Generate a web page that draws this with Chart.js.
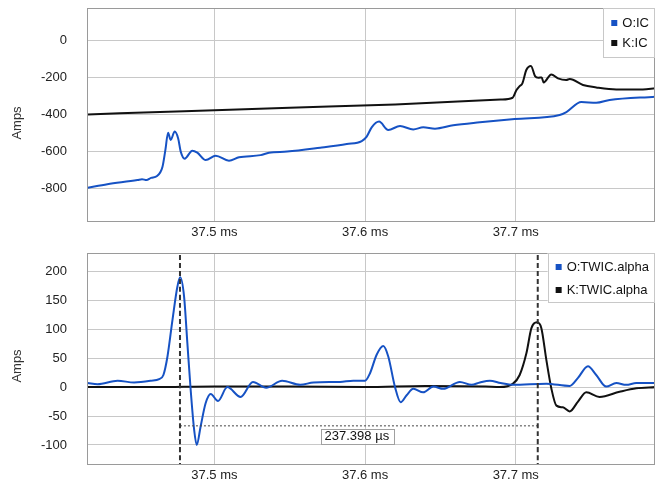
<!DOCTYPE html>
<html><head><meta charset="utf-8">
<script src="https://cdn.jsdelivr.net/npm/chart.js@4/dist/chart.umd.min.js"></script>
<style>
html,body{margin:0;padding:0;background:#fff;width:657px;height:482px;overflow:hidden;}
canvas{position:absolute;left:0;}
#c1{top:0}
#c2{top:241px}
</style></head><body>
<canvas id="c1" width="657" height="241"></canvas>
<canvas id="c2" width="657" height="241"></canvas>
<script>
// ---------- data ----------
const xTicks = [37.5, 37.6, 37.7];
const icYTicks = [-800, -600, -400, -200, 0];
const twYTicks = [-100, -50, 0, 50, 100, 150, 200];

const icLabels = ['O:IC', 'K:IC'];
const twLabels = ['O:TWIC.alpha', 'K:TWIC.alpha'];

const icOTime = [37.416,37.429,37.449,37.452,37.455,37.458,37.462,37.4656,37.4675,37.4693,37.471,37.4737,37.476,37.4777,37.4803,37.4854,37.4887,37.4943,37.5009,37.5097,37.5164,37.5307,37.5362,37.5483,37.5702,37.5879,37.5978,37.6011,37.6044,37.6093,37.6154,37.6232,37.632,37.6386,37.6464,37.6585,37.6762,37.6993,37.7291,37.7336,37.7435,37.7534,37.7623,37.7925];
const icOVals = [-798,-779,-757,-752,-757,-745,-735,-685,-595,-501,-540,-495,-532,-603,-641,-598,-609,-649,-625,-652,-634,-622,-609,-603,-582,-562,-546,-522,-472,-441,-486,-465,-483,-472,-479,-461,-445,-427,-405,-389,-335,-339,-324,-306];

const icKTime = [37.416,37.48,37.55,37.62,37.69,37.6979,37.7005,37.7026,37.7044,37.707,37.7101,37.7128,37.715,37.7172,37.7185,37.7236,37.728,37.7335,37.7358,37.7446,37.7534,37.7667,37.7843,37.7925];
const icKVals = [-402,-385,-366,-348,-322,-312,-270,-249,-234,-162,-140,-195,-204,-202,-229,-186,-207,-216,-211,-243,-256,-267,-267,-261];

const twOTime = [37.416,37.4225,37.4358,37.4468,37.4578,37.4634,37.4662,37.4689,37.4722,37.4755,37.4773,37.4799,37.4821,37.4843,37.4866,37.4883,37.4909,37.4942,37.4976,37.5024,37.5086,37.5174,37.5256,37.5344,37.545,37.557,37.5658,37.5834,37.5922,37.6,37.6033,37.6077,37.6121,37.6154,37.6199,37.6236,37.6276,37.632,37.6386,37.6453,37.6519,37.6629,37.6707,37.6762,37.6828,37.69,37.6982,37.7203,37.7358,37.7413,37.7479,37.7534,37.76,37.7667,37.7733,37.78,37.7925];
const twOVals = [7,5,11,8,11,14,21,53,116,174,190,157,76,-5,-74,-100,-68,-28,-12,-24,0,-17,9,-1,11,4,8,9,11,11,24,56,71,53,0,-26,-14,-3,-9,1,-3,9,4,8,11,7,4,6,2,16,36,21,1,7,4,7,7];

const twKTime = [37.416,37.46,37.5,37.55,37.6,37.64,37.68,37.6894,37.6982,37.7026,37.7071,37.7104,37.7141,37.717,37.7203,37.7236,37.727,37.7313,37.7358,37.7413,37.7468,37.7556,37.7689,37.78,37.7925];
const twKVals = [0,0,1,1,0,2,1,0,6,21,59,102,112,102,47,-2,-32,-35,-42,-25,-9,-17,-8,-2,0];

const markerA = 37.4772;       // ms
const markerSpan = 0.237398;   // ms
const markerLevel = -67;       // Amps

// ---------- helpers ----------
const BLUE = '#1652c4';
const BLACK = '#111111';
const FONT = "'Liberation Sans', Arial, sans-serif";
const pts = (t, v) => t.map((x, i) => ({x, y: v[i]}));

const decor = {
  id: 'decor',
  afterDraw(chart, args, o) {
    const ctx = chart.ctx, a = chart.chartArea;
    ctx.save();
    // frame
    ctx.strokeStyle = '#9a9a9a'; ctx.lineWidth = 1;
    ctx.strokeRect(a.left + 0.5, a.top + 0.5, a.right - a.left - 1, a.bottom - a.top);
    // y title
    ctx.fillStyle = '#333'; ctx.font = '13px ' + FONT;
    ctx.save(); ctx.translate(17.5, o.titleY); ctx.rotate(-Math.PI / 2);
    ctx.textAlign = 'center'; ctx.textBaseline = 'middle'; ctx.fillText('Amps', 0, 0); ctx.restore();
    // measurement label
    if (o.marker) {
      const xs = chart.scales.x, ys = chart.scales.y;
      const x1 = xs.getPixelForValue(markerA), x2 = xs.getPixelForValue(markerA + markerSpan);
      const y = ys.getPixelForValue(markerLevel);
      const txt = (markerSpan * 1000).toFixed(3) + ' µs';
      const w = ctx.measureText(txt).width + 8, cx = (x1 + x2) / 2 - 2;
      ctx.fillStyle = '#fff'; ctx.fillRect(cx - w / 2, y + 3, w, 15);
      ctx.strokeStyle = '#a0a0a0'; ctx.strokeRect(Math.round(cx - w / 2) + 0.5, Math.round(y + 3) + 0.5, Math.round(w), 15);
      ctx.fillStyle = '#111'; ctx.textAlign = 'center'; ctx.textBaseline = 'middle';
      ctx.fillText(txt, cx, y + 11);
    }
    // legend
    const labels = o.labels, colors = [BLUE, BLACK];
    ctx.font = '13px ' + FONT;
    const tw = Math.max(...labels.map(l => ctx.measureText(l).width));
    const bw = tw + 25, bx = a.right - bw, by = a.top;
    ctx.fillStyle = '#fff'; ctx.fillRect(bx, by, bw, 50);
    ctx.strokeStyle = '#c8c8c8'; ctx.strokeRect(Math.round(bx) + 0.5, by + 0.5, Math.round(bw) - 1, 49);
    labels.forEach((l, i) => {
      const yy = by + o.rows[i];
      ctx.fillStyle = colors[i]; ctx.fillRect(bx + 8, yy - 3, 6, 6);
      ctx.fillStyle = '#111'; ctx.textAlign = 'left'; ctx.textBaseline = 'middle';
      ctx.fillText(l, bx + 19, yy + 0.5);
    });
    ctx.restore();
  }
};

function makeChart(id, datasets, yMin, yMax, yTicks, padTop, xHeight, labels, rows, titleY, marker) {
  return new Chart(document.getElementById(id), {
    type: 'line',
    data: {datasets},
    options: {
      responsive: false, animation: false, devicePixelRatio: 1,
      layout: {padding: {top: padTop, right: 2, left: 0, bottom: 0}},
      elements: {point: {radius: 0}, line: {cubicInterpolationMode: 'monotone'}},
      plugins: {legend: {display: false}, tooltip: {enabled: false},
        decor: {labels, rows, titleY, marker}},
      scales: {
        x: {type: 'linear', min: 37.4155, max: 37.7924,
          grid: {color: '#c8c8c8', drawTicks: true, tickLength: 4, tickColor: 'rgba(0,0,0,0)'}, border: {display: false},
          ticks: {color: '#222', font: {family: FONT, size: 13}, padding: 0, maxRotation: 0,
            callback: v => v.toFixed(1) + ' ms'},
          afterBuildTicks: s => { s.ticks = xTicks.map(v => ({value: v})); },
          afterFit: s => { s.height = xHeight; }},
        y: {type: 'linear', min: yMin, max: yMax,
          grid: {color: '#c8c8c8', drawTicks: true, tickLength: 20, tickColor: 'rgba(0,0,0,0)'}, border: {display: false},
          ticks: {color: '#222', font: {family: FONT, size: 13}, padding: 0},
          afterBuildTicks: s => { s.ticks = yTicks.map(v => ({value: v})); },
          afterFit: s => { s.width = 87; }}
      }
    },
    plugins: [decor]
  });
}

makeChart('c1', [
  {label: icLabels[0], data: pts(icOTime, icOVals), borderColor: BLUE, borderWidth: 2, order: 1},
  {label: icLabels[1], data: pts(icKTime, icKVals), borderColor: BLACK, borderWidth: 2, order: 2}
], -978, 173, icYTicks, 8, 20, icLabels, [15, 35], 123, false);

const tB = markerA + markerSpan;
makeChart('c2', [
  {label: 'markA', data: [{x: markerA, y: -140}, {x: markerA, y: 240}], borderColor: '#333', borderWidth: 2, borderDash: [5, 3], order: 0},
  {label: 'markB', data: [{x: tB, y: -140}, {x: tB, y: 240}], borderColor: '#333', borderWidth: 2, borderDash: [5, 3], order: 0},
  {label: 'span', data: [{x: markerA, y: markerLevel}, {x: tB, y: markerLevel}], borderColor: '#444', borderWidth: 1, borderDash: [2, 2], order: 0},
  {label: twLabels[0], data: pts(twOTime, twOVals), borderColor: BLUE, borderWidth: 2, order: 1},
  {label: twLabels[1], data: pts(twKTime, twKVals), borderColor: BLACK, borderWidth: 2, order: 2}
], -133, 232, twYTicks, 12, 18, twLabels, [14, 37], 125, true);
</script>
</body></html>
